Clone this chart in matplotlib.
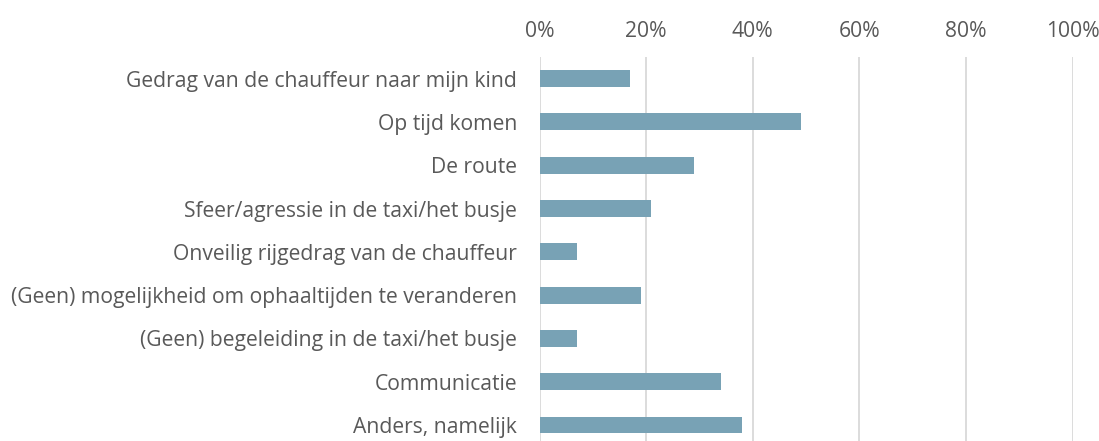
import matplotlib.pyplot as plt
from matplotlib.ticker import PercentFormatter

categories = [
    'Gedrag van de chauffeur naar mijn kind',
    'Op tijd komen',
    'De route',
    'Sfeer/agressie in de taxi/het busje',
    'Onveilig rijgedrag van de chauffeur',
    '(Geen) mogelijkheid om ophaaltijden te veranderen',
    '(Geen) begeleiding in de taxi/het busje',
    'Communicatie',
    'Anders, namelijk',
]
values = [17, 49, 29, 21, 7, 19, 7, 34, 38]
xticks = [0, 20, 40, 60, 80, 100]

plt.rcParams['font.family'] = ['Open Sans', 'DejaVu Sans']

fig = plt.figure(figsize=(10.99, 4.41), dpi=100)
ax = fig.add_axes([539.5 / 1099, 0, 533 / 1099, 384 / 441])

ax.barh(range(len(categories)), values, height=0.39, color='#78A2B5', zorder=3)

ax.set_xlim(0, 100)
ax.set_ylim(8.37, -0.5)
ax.set_xticks(xticks)
ax.xaxis.set_major_formatter(PercentFormatter(decimals=0))
ax.xaxis.tick_top()
ax.set_yticks(range(len(categories)))
ax.set_yticklabels(categories)

ax.grid(axis='x', color='#D9D9D9', linewidth=1.3, zorder=0)
for s in ax.spines.values():
    s.set_visible(False)
ax.tick_params(axis='x', length=0, pad=11, labelsize=15.2, labelcolor='#595959')
ax.tick_params(axis='y', length=0, pad=16, labelsize=15.2, labelcolor='#595959')

fig.savefig('out.png', dpi=100)
